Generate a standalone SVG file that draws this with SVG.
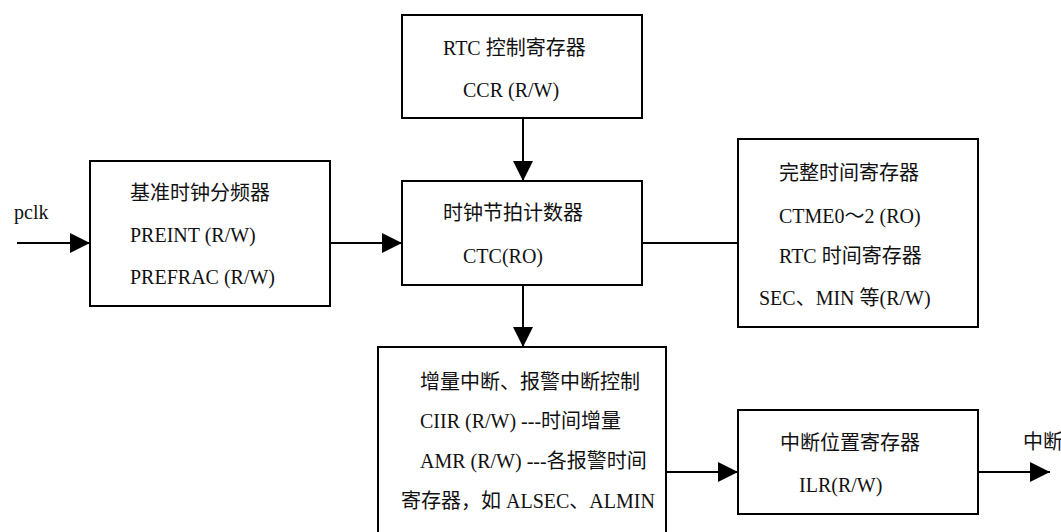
<svg xmlns="http://www.w3.org/2000/svg" width="1061" height="532" viewBox="0 0 1061 532">
<defs>
<style>
.box{fill:#fff;stroke:#000;stroke-width:2}
.ln{fill:none;stroke:#000;stroke-width:2}
text{font-family:"Liberation Serif","Noto Sans CJK SC",serif;font-size:20px;fill:#111}
</style>
<marker id="ah" viewBox="0 0 20 20" refX="20" refY="10" markerWidth="20" markerHeight="20" markerUnits="userSpaceOnUse" orient="auto">
<path d="M0,0 L20,10 L0,20 Z" fill="#000"/>
</marker>
</defs>
<rect width="1061" height="532" fill="#fff"/>
<g id="connectors">
<line class="ln" x1="17" y1="243" x2="90" y2="243" marker-end="url(#ah)"/>
<line class="ln" x1="330" y1="243" x2="402" y2="243" marker-end="url(#ah)"/>
<line class="ln" x1="523" y1="118" x2="523" y2="181" marker-end="url(#ah)"/>
<line class="ln" x1="523" y1="285" x2="523" y2="347" marker-end="url(#ah)"/>
<line class="ln" x1="642" y1="243" x2="738" y2="243"/>
<line class="ln" x1="666" y1="472" x2="738" y2="472" marker-end="url(#ah)"/>
<line class="ln" x1="978" y1="472" x2="1050" y2="472" marker-end="url(#ah)"/>
</g>
<g id="pclk"><text x="14" y="219">pclk</text></g>
<g id="ccr">
<rect class="box" x="402" y="15" width="240" height="103"/>
<text x="443" y="55">RTC 控制寄存器</text>
<text x="463" y="97">CCR (R/W)</text>
</g>
<g id="divider">
<rect class="box" x="90" y="161" width="240" height="145"/>
<text x="130" y="200">基准时钟分频器</text>
<text x="130" y="242">PREINT (R/W)</text>
<text x="130" y="284">PREFRAC (R/W)</text>
</g>
<g id="ctc">
<rect class="box" x="402" y="181" width="240" height="104"/>
<text x="443" y="220">时钟节拍计数器</text>
<text x="463" y="263">CTC(RO)</text>
</g>
<g id="timereg">
<rect class="box" x="738" y="139" width="240" height="188"/>
<text x="779" y="180">完整时间寄存器</text>
<text x="779" y="223">CTME0～2 (RO)</text>
<text x="779" y="263">RTC 时间寄存器</text>
<text x="759" y="305">SEC、MIN 等(R/W)</text>
</g>
<g id="intctrl">
<rect class="box" x="378" y="347" width="288" height="200"/>
<text x="420" y="389">增量中断、报警中断控制</text>
<text x="420" y="428">CIIR (R/W) ---时间增量</text>
<text x="420" y="468">AMR (R/W) ---各报警时间</text>
<text x="401" y="508">寄存器，如 ALSEC、ALMIN</text>
</g>
<g id="ilr">
<rect class="box" x="738" y="410" width="240" height="104"/>
<text x="780" y="450">中断位置寄存器</text>
<text x="799" y="492">ILR(R/W)</text>
</g>
<g id="out"><text x="1023" y="449">中断</text></g>
</svg>
